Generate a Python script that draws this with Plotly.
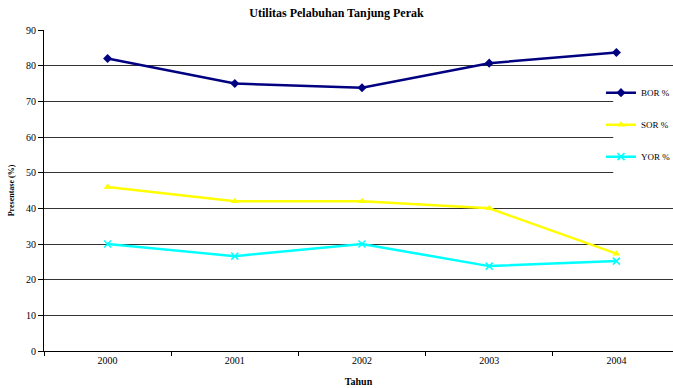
import plotly.graph_objects as go

years = ["2000", "2001", "2002", "2003", "2004"]
bor = [82.0, 75.0, 73.8, 80.7, 83.7]
sor = [46.0, 42.0, 42.0, 40.0, 27.3]
yor = [30.0, 26.6, 30.0, 23.8, 25.2]

font_family = "Liberation Serif, Times New Roman, serif"

fig = go.Figure()
fig.add_trace(go.Scatter(x=years, y=bor, name="BOR %", mode="lines+markers",
                         line=dict(color="#000080", width=2.5),
                         marker=dict(symbol="diamond", size=7, color="#000080"),
                         legendgroup="a"))
fig.add_trace(go.Scatter(x=years, y=sor, name="SOR %", mode="lines+markers",
                         line=dict(color="#FFFF00", width=2.5),
                         marker=dict(symbol="triangle-up", size=7, color="#FFFF00"),
                         legendgroup="b"))
fig.add_trace(go.Scatter(x=years, y=yor, name="YOR %", mode="lines+markers",
                         line=dict(color="#00FFFF", width=2.5),
                         marker=dict(symbol="x-thin", size=7, line=dict(color="#00FFFF", width=1.5)),
                         legendgroup="c"))

# white panel behind the legend (covers gridlines there, as in the original)
fig.add_shape(type="rect", xref="paper", yref="paper", x0=0.905, x1=1.0, y0=0.50, y1=0.86,
              fillcolor="white", line=dict(width=0), layer="above")

fig.update_layout(
    width=673, height=388,
    margin=dict(l=44, r=0, t=30, b=37, autoexpand=False),
    paper_bgcolor="white", plot_bgcolor="white",
    font=dict(family=font_family, size=10, color="black"),
    title=dict(text="<b>Utilitas Pelabuhan Tanjung Perak</b>", x=0.5, xanchor="center",
               y=1 - 13 / 388, yanchor="middle", font=dict(size=12, family=font_family)),
    showlegend=True,
    legend=dict(x=0.8855, xanchor="left", y=0.85, yanchor="top",
                bgcolor="rgba(0,0,0,0)", borderwidth=0, tracegroupgap=13,
                itemwidth=30, font=dict(size=9, family=font_family)),
    xaxis=dict(type="category", range=[-0.5, 4.445], tickson="boundaries",
               showline=True, linecolor="black", linewidth=1,
               ticks="outside", ticklen=4, tickcolor="black",
               showgrid=False, zeroline=False,
               title=dict(text="<b>Tahun</b>", font=dict(size=10), standoff=12)),
    yaxis=dict(range=[0, 90], dtick=10, showline=True, linecolor="black", linewidth=1,
               ticks="outside", ticklen=5, tickcolor="black",
               showgrid=True, gridcolor="#333333", gridwidth=1, zeroline=False,
               title=dict(text="<b>Presentase (%)</b>", font=dict(size=8), standoff=10)),
)

fig.write_html("out.html")
